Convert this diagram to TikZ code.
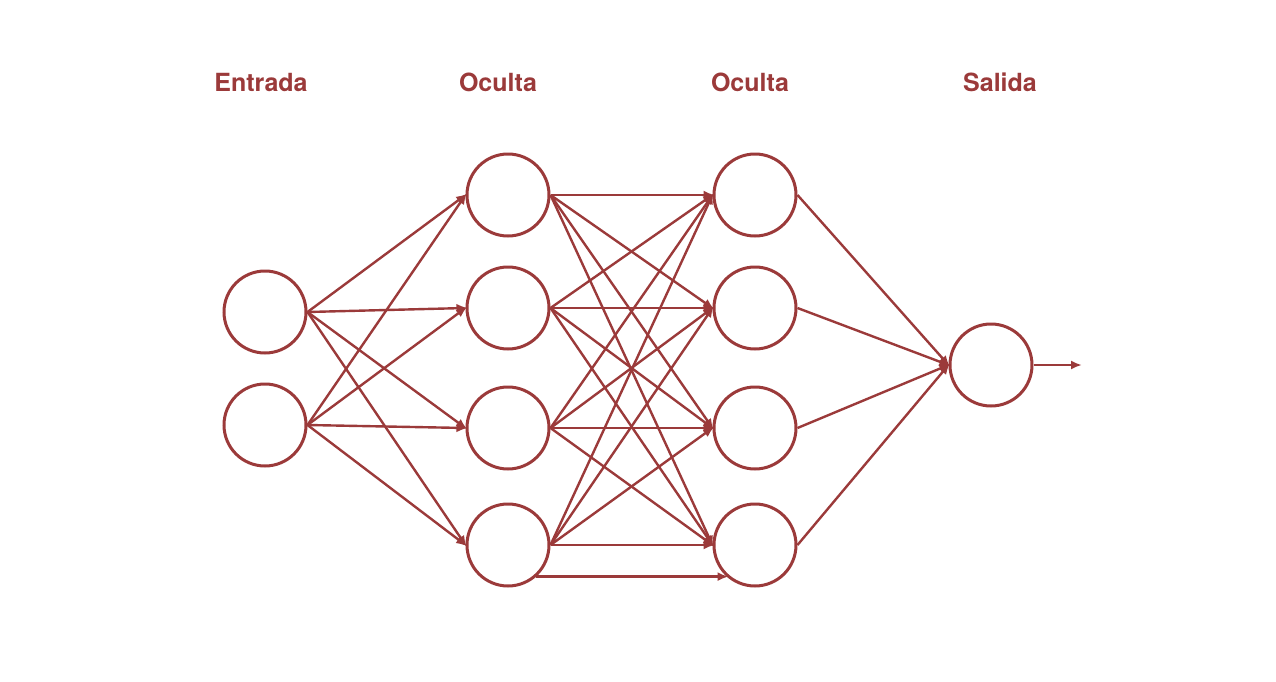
\documentclass[tikz,border=0pt]{standalone}
\usepackage{fontspec}
\setsansfont{TeX Gyre Heros}
\usepackage{xcolor}
\definecolor{brick}{HTML}{9B3A3A}
\usetikzlibrary{arrows.meta}
\tikzset{
    x=0.5pt, y=-0.5pt,
    neuron/.style ={circle, draw=brick, line width=1.5pt, minimum size=41pt, inner sep=0pt},
    link/.style = {every edge/.style={draw=brick, line width=1.2pt, -{Latex[length=5.5pt,width=4.5pt]}, shorten >=-1pt}},
    title/.style = {text=brick, font=\sffamily\bfseries\fontsize{12.5}{15}\selectfont}
}
\begin{document}
\begin{tikzpicture}
      \useasboundingbox (0,0) rectangle (1276,681);

      \node[title] (tin) at (261, 82) {Entrada};
      \node[title] (tha) at (498, 82) {Oculta};
      \node[title] (thb) at (750, 82) {Oculta};
      \node[title] (tout) at (1000, 82) {Salida};

      \node[neuron] (in1) at (265, 312) {};
      \node[neuron] (in2) at (265, 425) {};

      \node[neuron] (ha1) at (508, 195) {};
      \node[neuron] (ha2) at (508, 308) {};
      \node[neuron] (ha3) at (508, 428) {};
      \node[neuron] (ha4) at (508, 545) {};

      \node[neuron] (hb1) at (755, 195) {};
      \node[neuron] (hb2) at (755, 308) {};
      \node[neuron] (hb3) at (755, 428) {};
      \node[neuron] (hb4) at (755, 545) {};

      \node[neuron] (out) at (991, 365) {};
      \coordinate (end) at (1080, 365);

      % input -> first hidden
      \path[link] (in1.east) edge (ha1.west) edge (ha2.west) edge (ha3.west) edge (ha4.west);
      \path[link] (in2.east) edge (ha1.west) edge (ha2.west) edge (ha3.west) edge (ha4.west);

      % first hidden -> second hidden
      \path[link] (ha1.east) edge (hb1.west) edge (hb2.west) edge (hb3.west) edge (hb4.west);
      \path[link] (ha2.east) edge (hb1.west) edge (hb2.west) edge (hb3.west) edge (hb4.west);
      \path[link] (ha3.east) edge (hb1.west) edge (hb2.west) edge (hb3.west) edge (hb4.west);
      \path[link] (ha4.east) edge (hb1.west) edge (hb2.west) edge (hb3.west) edge (hb4.west);
      \path[link] (ha4.-48) edge (hb4.-132);

      % second hidden -> output
      \path[link] (hb1.east) edge (out.west);
      \path[link] (hb2.east) edge (out.west);
      \path[link] (hb3.east) edge (out.west);
      \path[link] (hb4.east) edge (out.west);
      \path[link] (out) edge (end);
\end{tikzpicture}
\end{document}
